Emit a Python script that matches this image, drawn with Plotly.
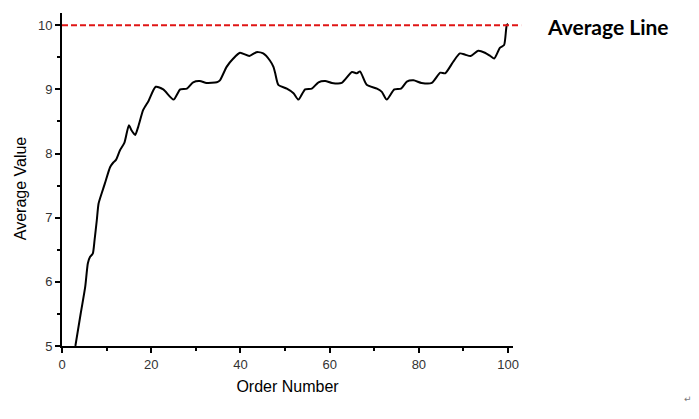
import plotly.graph_objects as go

order_number = [3, 4.2, 5.2, 5.8, 6.3, 6.9, 7.3, 7.8, 8.2, 8.9, 9.6, 10.8, 11.5, 12.1, 13.0, 14.0,
                15.0, 15.6, 16.4, 17.1, 18.2, 19.4, 21.0, 22.7, 25.0, 26.5, 28.0, 29.4, 30.9, 32.4,
                34.7, 35.4, 36.9, 38.4, 39.9, 42.0, 43.6, 45.1, 46.6, 47.4, 47.8, 48.5, 50.4, 51.9,
                53.0, 54.5, 56.0, 57.5, 59.0, 60.5, 62.7, 65.0, 66.1, 66.8, 68.3, 70.6, 71.7, 72.8,
                74.5, 76.0, 77.3, 78.8, 80.6, 82.9, 84.8, 85.9, 87.7, 89.2, 90.4, 91.6, 93.3, 94.8,
                96.0, 96.9, 98.2, 99.1, 99.7, 100]
average_value = [5.0, 5.51, 5.92, 6.29, 6.39, 6.44, 6.65, 6.96, 7.22, 7.38, 7.53, 7.79, 7.86, 7.90,
                 8.05, 8.17, 8.44, 8.36, 8.29, 8.42, 8.68, 8.82, 9.04, 9.0, 8.84, 9.0, 9.01, 9.11,
                 9.13, 9.10, 9.11, 9.14, 9.35, 9.48, 9.57, 9.52, 9.58, 9.56, 9.45, 9.35, 9.25, 9.07,
                 9.01, 8.94, 8.84, 9.0, 9.01, 9.11, 9.13, 9.10, 9.10, 9.27, 9.25, 9.28, 9.07, 9.01,
                 8.96, 8.84, 9.0, 9.01, 9.12, 9.14, 9.10, 9.10, 9.26, 9.25, 9.43, 9.56, 9.54, 9.52,
                 9.60, 9.57, 9.52, 9.48, 9.65, 9.69, 10.0, 10.02]
average_line = 10
x_ticks = [0, 20, 40, 60, 80, 100]
y_ticks = [5, 6, 7, 8, 9, 10]

fig = go.Figure()
fig.add_trace(go.Scatter(
    x=order_number, y=average_value, mode="lines",
    line=dict(color="black", width=2, shape="spline", smoothing=0.6),
    showlegend=False, hoverinfo="skip",
))

fig.add_shape(type="line", xref="paper", yref="y", x0=0, x1=1.018,
              y0=average_line, y1=average_line,
              line=dict(color="#e01515", width=2, dash="6px,3px"))

fig.add_annotation(text="<b>Average Line</b>", xref="paper", yref="paper",
                   x=1.071, y=0.958, xanchor="left", yanchor="middle", showarrow=False,
                   font=dict(family="Lato, Noto Sans, sans-serif", size=21, color="black"))
fig.add_annotation(text="↵", xref="paper", yref="paper",
                   x=1.388, y=-0.159, xanchor="center", yanchor="middle", showarrow=False,
                   font=dict(family="DejaVu Sans", size=9, color="#777777"))

axis_font = dict(family="Liberation Sans, Arial, sans-serif", size=13, color="#333333")
title_font = dict(family="Liberation Sans, Arial, sans-serif", size=16, color="black")
fig.add_annotation(text="Average Value", xref="paper", yref="paper",
                   x=-0.093, y=0.474, xanchor="center", yanchor="middle", textangle=-90,
                   showarrow=False, font=title_font)

fig.update_xaxes(
    range=[0, 101.1], tickvals=x_ticks, showgrid=False, zeroline=False,
    showline=True, linecolor="black", linewidth=2,
    ticks="outside", ticklen=5, tickwidth=1.5, tickcolor="black",
    minor=dict(tickvals=[10, 30, 50, 70, 90], ticks="outside", ticklen=3, tickwidth=1.5, tickcolor="black"),
    tickfont=axis_font,
    title=dict(text="Order Number", font=title_font, standoff=10),
)
fig.update_yaxes(
    range=[5, 10.19], tickvals=y_ticks, showgrid=False, zeroline=False,
    showline=True, linecolor="black", linewidth=2,
    ticks="outside", ticklen=5, tickwidth=1.5, tickcolor="black",
    minor=dict(tickvals=[5.5, 6.5, 7.5, 8.5, 9.5], ticks="outside", ticklen=3, tickwidth=1.5, tickcolor="black"),
    tickfont=axis_font,
)

fig.update_layout(
    width=691, height=411,
    margin=dict(l=54, r=186, t=5, b=73),
    plot_bgcolor="white", paper_bgcolor="white",
)

fig.write_html("out.html")
